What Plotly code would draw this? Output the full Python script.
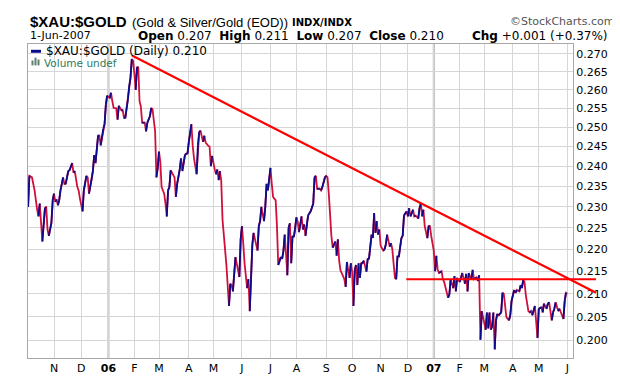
import math
import pandas as pd
import plotly.graph_objects as go

# ---- data (trading-session number counted from 3 Oct 2005, ratio value) ----
session = [1, 2, 4, 6, 8, 9, 10, 11, 12, 14, 15, 16, 17, 19, 20, 21, 22, 23, 24, 25, 26, 28, 29, 30,
           32, 33, 35, 36, 37, 39, 40, 41, 43, 44, 46, 47, 48, 50, 51, 52, 53, 55, 56, 57, 59, 60,
           61, 62, 64, 65, 66, 67, 69, 70, 71, 73, 74, 75, 76, 78, 79, 80, 81, 82, 83, 84, 85, 86,
           87, 88, 89, 91, 92, 93, 95, 96, 97, 98, 99, 100, 101, 102, 103, 104, 106, 107, 108, 109,
           110, 111, 113, 114, 115, 116, 118, 119, 120, 122, 123, 124, 125, 127, 128, 129, 131, 132,
           133, 134, 136, 137, 138, 140, 141, 142, 143, 145, 146, 147, 148, 149, 150, 151, 152, 154,
           156, 157, 158, 159, 161, 162, 164, 165, 166, 167, 168, 170, 171, 172, 173, 174, 175, 176,
           178, 179, 180, 181, 183, 184, 185, 186, 188, 189, 190, 191, 192, 193, 194, 196, 197, 198,
           199, 200, 201, 202, 203, 204, 205, 206, 207, 208, 209, 210, 212, 213, 214, 215, 217, 218,
           219, 221, 222, 223, 224, 226, 227, 228, 230, 231, 232, 233, 234, 235, 236, 238, 239, 240,
           241, 242, 244, 245, 246, 247, 248, 249, 250, 251, 252, 253, 254, 255, 256, 257, 258, 259,
           260, 262, 263, 264, 266, 267, 268, 269, 270, 271, 272, 273, 275, 276, 277, 278, 280, 281,
           282, 284, 285, 286, 287, 289, 290, 291, 293, 294, 295, 296, 298, 299, 300, 302, 303, 304,
           305, 306, 307, 309, 310, 311, 312, 314, 315, 316, 317, 318, 320, 321, 322, 323, 325, 326,
           327, 329, 330, 331, 332, 334, 335, 336, 338, 339, 340, 341, 343, 344, 345, 347, 348, 349,
           350, 351, 352, 354, 355, 356, 357, 358, 359, 360, 361, 362, 363, 364, 366, 367, 368, 369,
           370, 372, 373, 374, 376, 377, 378, 380, 381, 382, 383, 384, 385, 387, 388, 389, 390, 392,
           393, 394, 395, 397, 398, 399, 401, 402, 403, 405, 406, 407, 408, 410, 411, 412, 413, 414,
           415, 416, 417]
ratio = [0.2300, 0.2376, 0.2372, 0.2340, 0.2293, 0.2277, 0.2308, 0.2258, 0.2218, 0.2297, 0.2299,
         0.2246, 0.2231, 0.2262, 0.2316, 0.2332, 0.2312, 0.2318, 0.2304, 0.2316, 0.2340, 0.2372,
         0.2356, 0.2356, 0.2388, 0.2390, 0.2408, 0.2384, 0.2388, 0.2348, 0.2340, 0.2320, 0.2289,
         0.2340, 0.2376, 0.2372, 0.2332, 0.2368, 0.2388, 0.2428, 0.2408, 0.2478, 0.2478, 0.2453,
         0.2496, 0.2508, 0.2560, 0.2584, 0.2578, 0.2592, 0.2569, 0.2551, 0.2550, 0.2520, 0.2557,
         0.2545, 0.2545, 0.2525, 0.2525, 0.2573, 0.2610, 0.2633, 0.2685, 0.2680, 0.2644, 0.2600,
         0.2662, 0.2662, 0.2569, 0.2555, 0.2512, 0.2512, 0.2489, 0.2512, 0.2529, 0.2551, 0.2548,
         0.2512, 0.2489, 0.2372, 0.2396, 0.2437, 0.2412, 0.2348, 0.2332, 0.2308, 0.2277, 0.2340,
         0.2348, 0.2390, 0.2376, 0.2372, 0.2324, 0.2356, 0.2392, 0.2420, 0.2388, 0.2428, 0.2432,
         0.2432, 0.2462, 0.2508, 0.2453, 0.2420, 0.2380, 0.2453, 0.2487, 0.2491, 0.2462, 0.2478,
         0.2460, 0.2452, 0.2450, 0.2400, 0.2426, 0.2392, 0.2380, 0.2392, 0.2365, 0.2388, 0.2364,
         0.2269, 0.2238, 0.2164, 0.2073, 0.2122, 0.2119, 0.2105, 0.2182, 0.2168, 0.2137, 0.2223,
         0.2254, 0.2214, 0.2168, 0.2112, 0.2132, 0.2062, 0.2132, 0.2210, 0.2238, 0.2223, 0.2197,
         0.2254, 0.2266, 0.2300, 0.2266, 0.2300, 0.2356, 0.2340, 0.2396, 0.2356, 0.2324, 0.2320,
         0.2316, 0.2254, 0.2164, 0.2182, 0.2178, 0.2196, 0.2234, 0.2189, 0.2141, 0.2250, 0.2261,
         0.2168, 0.2231, 0.2228, 0.2246, 0.2275, 0.2265, 0.2240, 0.2277, 0.2246, 0.2258, 0.2231,
         0.2279, 0.2285, 0.2289, 0.2308, 0.2372, 0.2376, 0.2344, 0.2344, 0.2340, 0.2348, 0.2372,
         0.2376, 0.2372, 0.2332, 0.2277, 0.2231, 0.2204, 0.2218, 0.2185, 0.2223, 0.2174, 0.2152,
         0.2139, 0.2132, 0.2115, 0.2171, 0.2152, 0.2135, 0.2168, 0.2149, 0.2073, 0.2152, 0.2164,
         0.2119, 0.2168, 0.2135, 0.2168, 0.2168, 0.2174, 0.2149, 0.2178, 0.2178, 0.2234, 0.2226,
         0.2285, 0.2238, 0.2266, 0.2234, 0.2246, 0.2208, 0.2197, 0.2200, 0.2211, 0.2234, 0.2206,
         0.2214, 0.2200, 0.2135, 0.2132, 0.2185, 0.2182, 0.2226, 0.2231, 0.2279, 0.2289, 0.2277,
         0.2297, 0.2277, 0.2293, 0.2277, 0.2279, 0.2272, 0.2297, 0.2308, 0.2277, 0.2293, 0.2254,
         0.2226, 0.2254, 0.2254, 0.2231, 0.2197, 0.2150, 0.2185, 0.2153, 0.2146, 0.2150, 0.2132,
         0.2126, 0.2112, 0.2091, 0.2098, 0.2132, 0.2112, 0.2139, 0.2105, 0.2135, 0.2126, 0.2135,
         0.2146, 0.2122, 0.2144, 0.2105, 0.2146, 0.2131, 0.2153, 0.2132, 0.2136, 0.2128, 0.2141,
         0.2001, 0.2062, 0.2049, 0.2022, 0.2059, 0.2025, 0.2059, 0.2022, 0.2029, 0.2059, 0.1981,
         0.2042, 0.2056, 0.2053, 0.2059, 0.2102, 0.2100, 0.2078, 0.2049, 0.2042, 0.2053, 0.2084,
         0.2108, 0.2102, 0.2108, 0.2105, 0.2119, 0.2112, 0.2131, 0.2126, 0.2097, 0.2062, 0.2059,
         0.2062, 0.2053, 0.2073, 0.2039, 0.2005, 0.2067, 0.2070, 0.2059, 0.2078, 0.2067, 0.2078,
         0.2081, 0.2042, 0.2059, 0.2067, 0.2081, 0.2062, 0.2067, 0.2059, 0.2050, 0.2045, 0.2084,
         0.2102, 0.2100]

# trend lines drawn on the chart (session, value)
trend_session = [81.2, 439.2]
trend_value = [0.2695, 0.2102]
resist_session = [292.8, 439.2]
resist_value = [0.2132, 0.2132]

month_labels = ["N", "D", "<b>06</b>", "F", "M", "A", "M", "J", "J", "A", "S", "O",
                "N", "D", "<b>07</b>", "F", "M", "A", "M", "J"]
month_starts = pd.period_range("2005-11", "2007-06", freq="M")
y_ticks = [0.200, 0.205, 0.210, 0.215, 0.220, 0.225, 0.230, 0.235,
           0.240, 0.245, 0.250, 0.255, 0.260, 0.265, 0.270]
nyse_holidays = ["2005-11-24", "2005-12-26", "2006-01-02", "2006-01-16", "2006-02-20",
                 "2006-04-14", "2006-05-29", "2006-07-04", "2006-09-04", "2006-11-23",
                 "2006-12-25", "2007-01-01", "2007-01-02", "2007-01-15", "2007-02-19",
                 "2007-04-06", "2007-05-28"]

# ---- trading calendar -> tick positions ----
cal = pd.bdate_range("2005-10-03", "2007-06-29")
cal = cal[~cal.isin(pd.to_datetime(nyse_holidays))]
cal_periods = cal.to_period("M")
tick_sessions = []
for p in month_starts:
    idx = [i for i, q in enumerate(cal_periods) if q == p][0]
    tick_sessions.append(idx)
year_sessions = [tick_sessions[i] for i, t in enumerate(month_labels) if "<b>" in t]
dates = [cal[s].strftime("%d %b %Y") for s in session]

# up segments (blue) over a red base line
ux, uy = [], []
for i in range(1, len(session)):
    if ratio[i] >= ratio[i - 1]:
        ux += [session[i - 1], session[i], None]
        uy += [ratio[i - 1], ratio[i], None]

X_LO, X_HI = 0.93, 421.4
Y_LO, Y_HI = 0.19631, 0.27279
L, R, T, B, W, H = 20, 30, 36, 20, 620, 379
pw, ph = W - L - R, H - T - B
main_frac = 545 / pw
x2_hi = X_LO + (X_HI - X_LO) / main_frac

fig = go.Figure()
fig.add_trace(go.Scatter(x=session, y=ratio, mode="lines", text=dates,
                         line=dict(color="#d0103a", width=1.8), hoverinfo="text+y",
                         showlegend=False))
fig.add_trace(go.Scatter(x=ux, y=uy, mode="lines", line=dict(color="#0a0a8c", width=1.8),
                         hoverinfo="skip", showlegend=False, connectgaps=False))
fig.add_trace(go.Scatter(x=trend_session, y=trend_value, mode="lines", xaxis="x2", yaxis="y2",
                         line=dict(color="#ff0000", width=2.2), showlegend=False,
                         hoverinfo="skip"))
fig.add_trace(go.Scatter(x=resist_session, y=resist_value, mode="lines", xaxis="x2", yaxis="y2",
                         line=dict(color="#ff0000", width=2.2), showlegend=False,
                         hoverinfo="skip"))

shapes = []
for s in year_sessions:
    shapes.append(dict(type="line", xref="x", yref="paper", x0=s, x1=s, y0=0, y1=1,
                       line=dict(color="#b4b4b4", width=2), layer="below"))


def px(x):
    return (x - L) / pw


def py(y):
    return (H - B - y) / ph


# legend glyphs
shapes.append(dict(type="line", xref="paper", yref="paper", x0=px(23), x1=px(33),
                   y0=py(43.5), y1=py(43.5), line=dict(color="#0a0a8c", width=3)))
for (a, b, top) in [(23.5, 25.5, 53), (26.5, 28.5, 50), (29.5, 31.5, 52)]:
    shapes.append(dict(type="rect", xref="paper", yref="paper", x0=px(a), x1=px(b),
                       y0=py(58), y1=py(top), line=dict(width=0), fillcolor="#5f7f6f"))

FONT = "DejaVu Sans"
ann = [
    dict(x=px(20), y=py(12.5), text="<b>$XAU:$GOLD</b>",
         font=dict(family="Liberation Sans", size=15, color="#000"), xanchor="left", yanchor="middle"),
    dict(x=px(121.5), y=py(13.5), text="(Gold &amp; Silver/Gold (EOD))",
         font=dict(family="Liberation Sans", size=13, color="#000"), xanchor="left", yanchor="middle"),
    dict(x=px(282), y=py(14), text="<b>INDX/INDX</b>",
         font=dict(family=FONT, size=10, color="#000"), xanchor="left", yanchor="middle"),
    dict(x=px(608), y=py(13), text="©StockCharts.com",
         font=dict(family=FONT, size=11, color="#555"), xanchor="right", yanchor="middle"),
    dict(x=px(20), y=py(27.5), text="1-Jun-2007",
         font=dict(family=FONT, size=11, color="#000"), xanchor="left", yanchor="middle"),
    dict(x=px(128), y=py(27.5),
         text="<b>Open</b> 0.207  <b>High</b> 0.211  <b>Low</b> 0.207  <b>Close</b> 0.210",
         font=dict(family=FONT, size=12, color="#000"), xanchor="left", yanchor="middle"),
    dict(x=px(602), y=py(27.5), text="<b>Chg</b> +0.001 (+0.37%)",
         font=dict(family=FONT, size=12, color="#000"), xanchor="right", yanchor="middle"),
    dict(x=px(603), y=py(27.5), text="▲",
         font=dict(family=FONT, size=8, color="#2a9a3a"), xanchor="left", yanchor="middle"),
    dict(x=px(36), y=py(43.5), text="$XAU:$GOLD (Daily) 0.210",
         font=dict(family=FONT, size=12, color="#000"), xanchor="left", yanchor="middle"),
    dict(x=px(34), y=py(56), text="Volume undef",
         font=dict(family=FONT, size=10.5, color="#2f7a5c"), xanchor="left", yanchor="middle"),
]
for a in ann:
    a.update(xref="paper", yref="paper", showarrow=False)

fig.update_layout(
    width=W, height=H, margin=dict(l=L, r=R, t=T, b=B),
    paper_bgcolor="white", plot_bgcolor="rgba(0,0,0,0)",
    showlegend=False, shapes=shapes, annotations=ann,
    xaxis=dict(domain=[0, main_frac], range=[X_LO, X_HI], tickmode="array",
               tickvals=tick_sessions, ticktext=month_labels, showgrid=True,
               gridcolor="#d6d6d6", gridwidth=1, zeroline=False, showline=True,
               linecolor="#a8a8a8", linewidth=1, mirror=True, ticks="",
               tickfont=dict(family=FONT, size=11, color="#000")),
    yaxis=dict(type="log", range=[math.log10(Y_LO), math.log10(Y_HI)], side="right",
               tickmode="array", tickvals=y_ticks, ticktext=[f"{v:.3f}" for v in y_ticks],
               showgrid=True, gridcolor="#d6d6d6", gridwidth=1, zeroline=False,
               showline=True, linecolor="#a8a8a8", linewidth=1, mirror=True, ticks="",
               tickfont=dict(family=FONT, size=11, color="#000")),
    xaxis2=dict(domain=[0, 1], range=[X_LO, x2_hi], anchor="y2", visible=False,
                showgrid=False, zeroline=False),
    yaxis2=dict(domain=[0, 1], type="log", range=[math.log10(Y_LO), math.log10(Y_HI)],
                anchor="x2", visible=False, showgrid=False, zeroline=False),
)

fig.write_html("out.html")
